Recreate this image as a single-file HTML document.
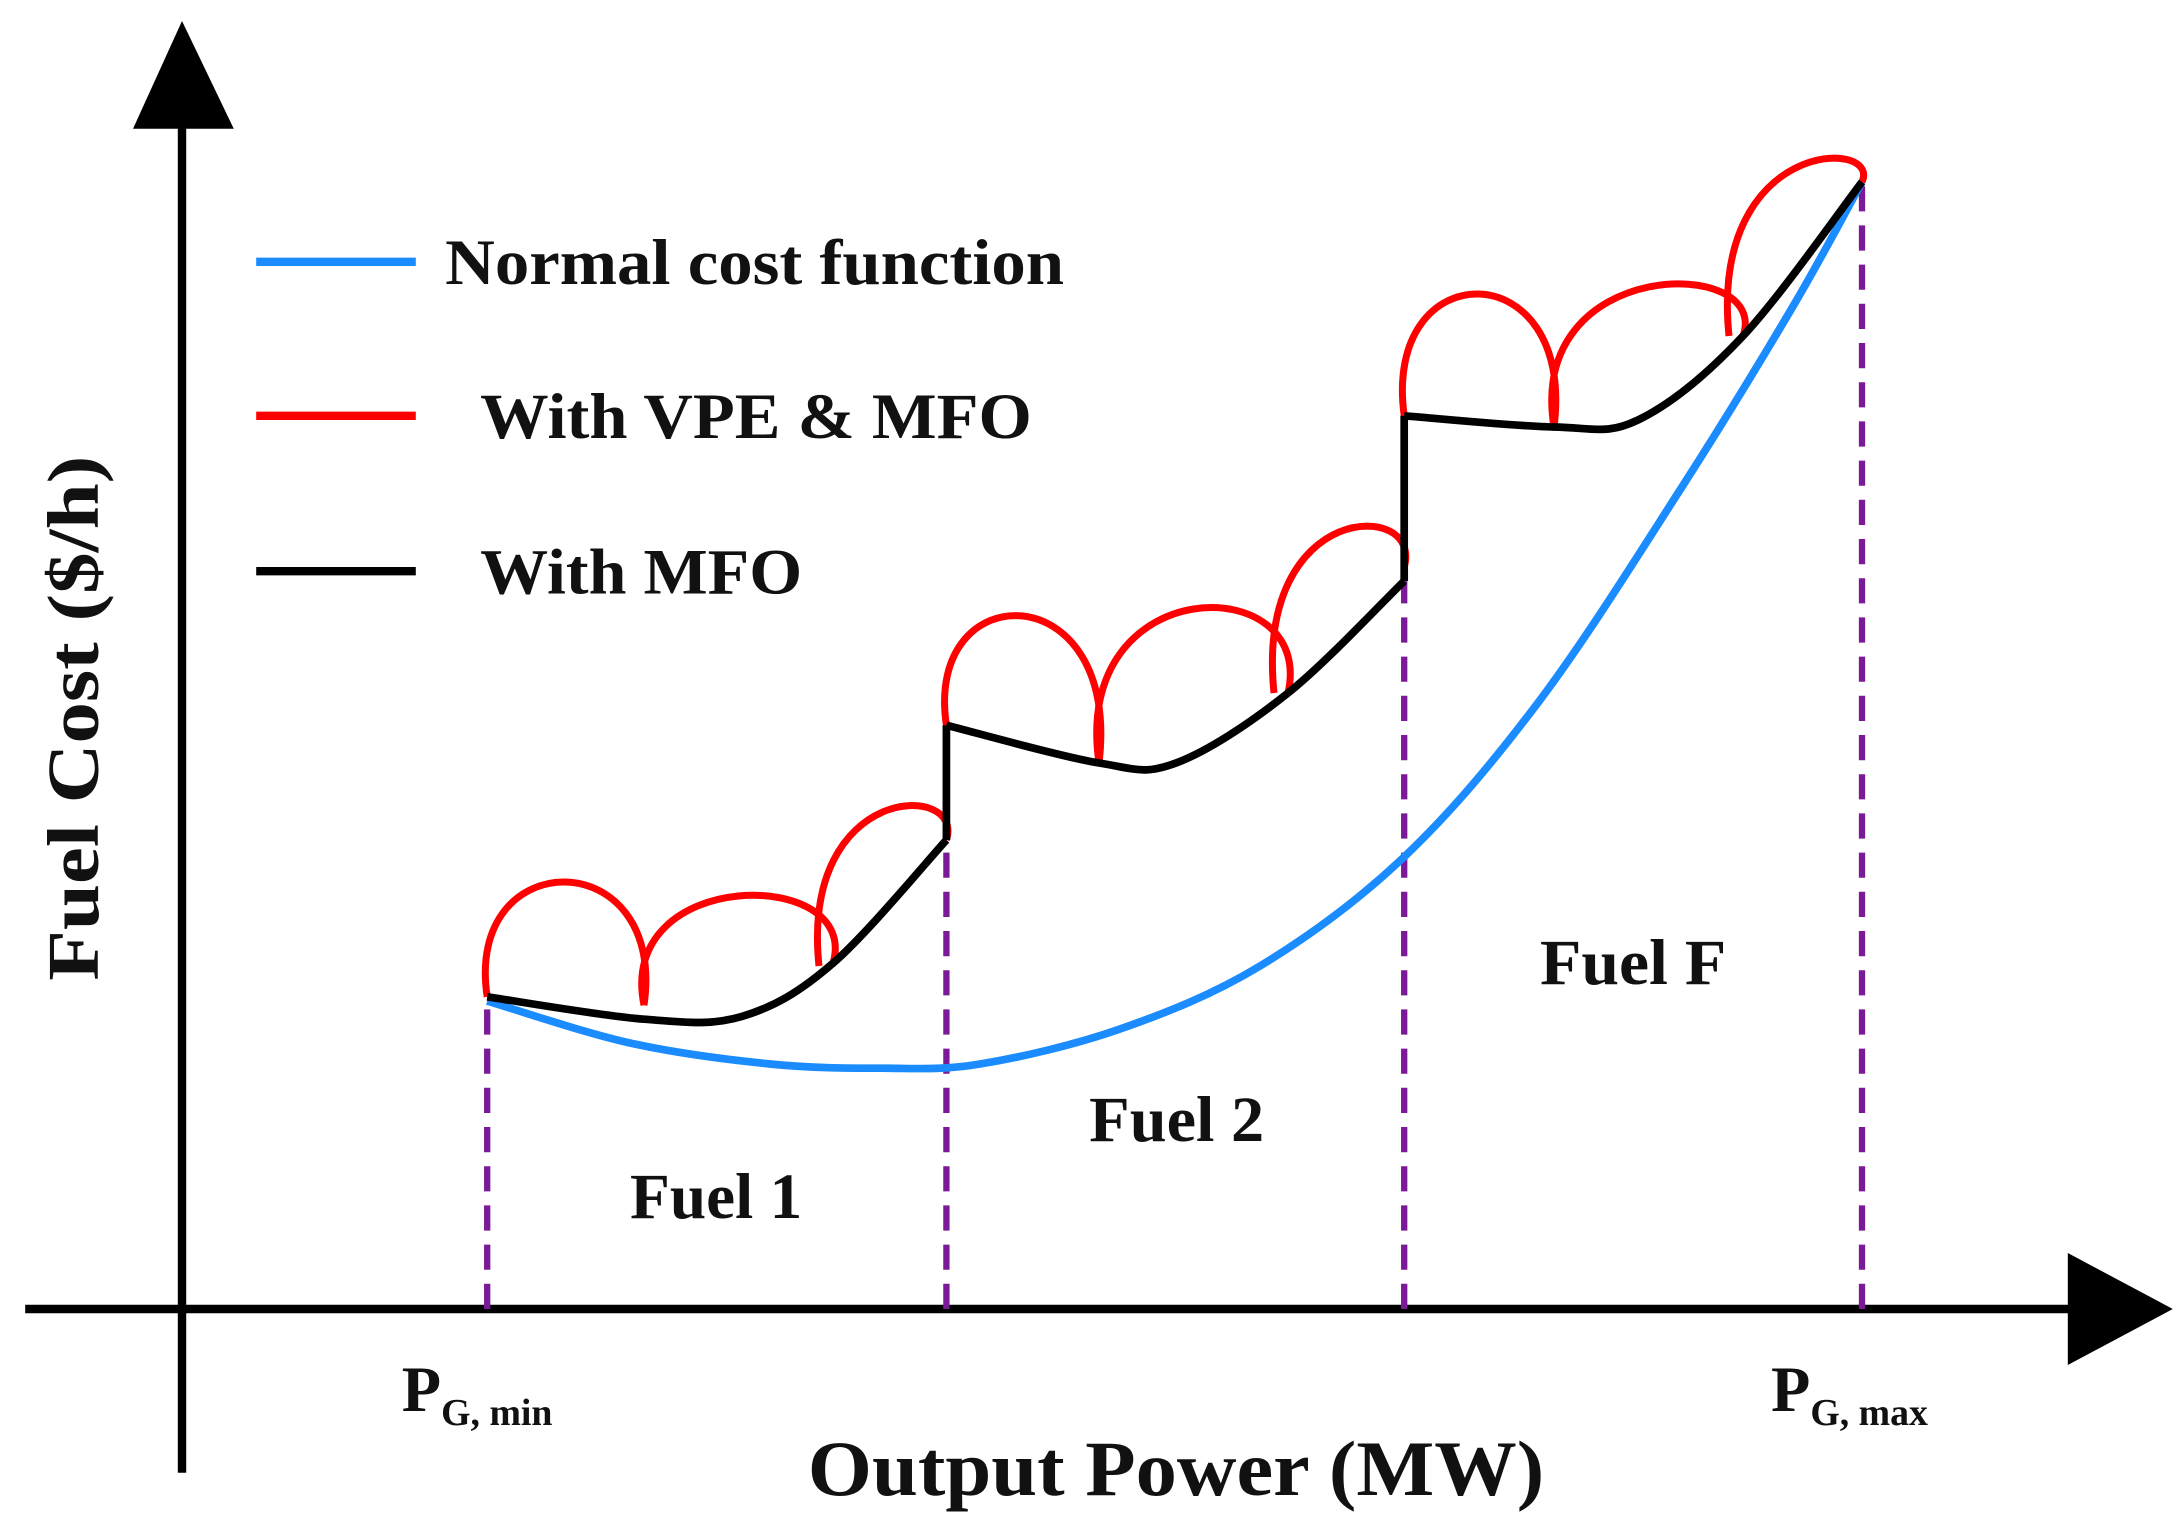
<!DOCTYPE html>
<html><head><meta charset="utf-8"><style>
html,body{margin:0;padding:0;background:#fff;}
svg{display:block;}
text{font-family:"Liberation Serif",serif;font-weight:bold;fill:#111;}
</style></head><body>
<svg id="chart" width="2182" height="1520" viewBox="0 0 1558.57 1085.71" xmlns="http://www.w3.org/2000/svg">
<g>
<line x1="130" y1="60" x2="130" y2="1052" stroke="#000" stroke-width="6"/>
<polygon points="130,15 95,92 167,92" fill="#000"/>
<line x1="18" y1="935" x2="1500" y2="935" stroke="#000" stroke-width="6"/>
<polygon points="1552,935 1477,895 1477,975" fill="#000"/>
</g>
<g id="marks"></g>
<g>
<line x1="183" y1="187" x2="297" y2="187" stroke="#1a8cff" stroke-width="6"/>
<text x="318" y="203" font-size="46" textLength="442" lengthAdjust="spacingAndGlyphs">Normal cost function</text>
<line x1="183" y1="297" x2="297" y2="297" stroke="#ff0000" stroke-width="6"/>
<text x="343" y="313" font-size="46" textLength="394" lengthAdjust="spacingAndGlyphs">With VPE &amp; MFO</text>
<line x1="183" y1="408" x2="297" y2="408" stroke="#000" stroke-width="6"/>
<text x="343" y="424" font-size="46" textLength="230" lengthAdjust="spacingAndGlyphs">With MFO</text>
</g>
<text x="450" y="870" font-size="46" textLength="123" lengthAdjust="spacingAndGlyphs">Fuel 1</text>
<text x="778" y="815" font-size="46" textLength="125" lengthAdjust="spacingAndGlyphs">Fuel 2</text>
<text x="1100" y="703" font-size="46" textLength="133" lengthAdjust="spacingAndGlyphs">Fuel F</text>
<text transform="translate(70,513) rotate(-90)" font-size="52" text-anchor="middle" textLength="375" lengthAdjust="spacingAndGlyphs">Fuel Cost ($/h)</text>
<text x="577" y="1068" font-size="56" textLength="526" lengthAdjust="spacingAndGlyphs">Output Power (MW)</text>
<text x="287" y="1008" font-size="46">P<tspan font-size="27" dy="10">G, min</tspan></text>
<text x="1265" y="1008" font-size="46">P<tspan font-size="27" dy="10">G, max</tspan></text>
</svg>
<script>
// data units: x = (px-130)/10, y = (935-px)/10
const boundaries = [21.8, 54.6, 87.3, 120.0];
const boundaryTops = [22.3, 33.5, 52.5, 80.5];
const blueX = [21.8, 32, 42, 50, 57, 67, 77, 87.3, 97, 107, 115, 120];
const blueY = [22.0, 19.0, 17.5, 17.2, 17.5, 20.0, 24.5, 32.3, 43.5, 58.5, 71.5, 80.5];
const blackSegX = [[21.8, 33, 40, 46.5, 54.6],[54.6, 65.5, 71, 79, 87.3],[87.3, 98, 104, 111.5, 120]];
const blackSegY = [[22.3, 20.7, 20.9, 24.7, 33.5],[41.7, 39.0, 39.0, 44.0, 52.0],[63.8, 63.0, 63.5, 69.5, 80.5]];
const lobeStartX = [21.8, 33.0, 45.5, 54.6, 65.5, 78.0, 87.3, 98.0, 110.5];
const lobeEndX   = [33.0, 46.5, 54.6, 65.5, 79.0, 87.3, 98.0, 111.5, 120.0];
const lobeStartY = [22.3, 21.7, 24.5, 41.7, 39.0, 44.0, 63.8, 63.0, 69.5];
const lobeEndY   = [21.7, 24.7, 33.5, 39.0, 44.0, 53.0, 63.0, 69.5, 80.5];
const lobePeakY  = [30.5, 29.5, 35.5, 49.5, 50.0, 55.5, 72.5, 73.0, 81.5];

const sx = v => 130 + v*10;
const sy = v => 935 - v*10;
const ns = "http://www.w3.org/2000/svg";
const g = document.getElementById('marks');
function smooth(xs, ys){
  const p = xs.map((x,i)=>[sx(x), sy(ys[i])]);
  let d = `M${p[0][0]},${p[0][1]}`;
  for(let i=0;i<p.length-1;i++){
    const p0=p[i-1]||p[i], p1=p[i], p2=p[i+1], p3=p[i+2]||p2;
    d += ` C${p1[0]+(p2[0]-p0[0])/6},${p1[1]+(p2[1]-p0[1])/6} ${p2[0]-(p3[0]-p1[0])/6},${p2[1]-(p3[1]-p1[1])/6} ${p2[0]},${p2[1]}`;
  }
  return d;
}
boundaries.forEach((b,i)=>{
  const l = document.createElementNS(ns,'line');
  
  
  l.setAttribute('x1', sx(b)); l.setAttribute('x2', sx(b));
  l.setAttribute('y1', sy(0)); l.setAttribute('y2', sy(boundaryTops[i]));
  l.setAttribute('stroke', '#7a1a96'); l.setAttribute('stroke-width', '4.5');
  l.setAttribute('stroke-dasharray', '18 10');
  g.appendChild(l);
});
const blue = document.createElementNS(ns,'path');


blue.setAttribute('d', smooth(blueX, blueY));
blue.setAttribute('fill','none'); blue.setAttribute('stroke','#1a8cff'); blue.setAttribute('stroke-width','5.5');
g.appendChild(blue);
for(let i=0;i<lobeStartX.length;i++){
  const x1=sx(lobeStartX[i]), y1=sy(lobeStartY[i]), x2=sx(lobeEndX[i]), y2=sy(lobeEndY[i]);
  const pk=sy(lobePeakY[i]);
  const base=(y1+y2)/2;
  const cy = base + (pk-base)/0.75;
  const w = x2-x1;
  const p = document.createElementNS(ns,'path');
  
  
  p.setAttribute('d', `M${x1},${y1} C${x1-w*0.15},${cy} ${x2+w*0.15},${cy} ${x2},${y2}`);
  p.setAttribute('fill','none'); p.setAttribute('stroke','#ff0000'); p.setAttribute('stroke-width','5');
  g.appendChild(p);
}
blackSegX.forEach((xs,i)=>{
  const p = document.createElementNS(ns,'path');
  
  
  p.setAttribute('d', smooth(xs, blackSegY[i]));
  p.setAttribute('fill','none'); p.setAttribute('stroke','#000'); p.setAttribute('stroke-width','5.5');
  g.appendChild(p);
  if(i<blackSegX.length-1){
    const v = document.createElementNS(ns,'line');
    
    
    const xe = xs[xs.length-1];
    v.setAttribute('x1', sx(xe)); v.setAttribute('x2', sx(xe));
    v.setAttribute('y1', sy(blackSegY[i][blackSegY[i].length-1])); v.setAttribute('y2', sy(blackSegY[i+1][0]));
    v.setAttribute('stroke','#000'); v.setAttribute('stroke-width','5.5');
    g.appendChild(v);
  }
});
</script>
</body></html>
